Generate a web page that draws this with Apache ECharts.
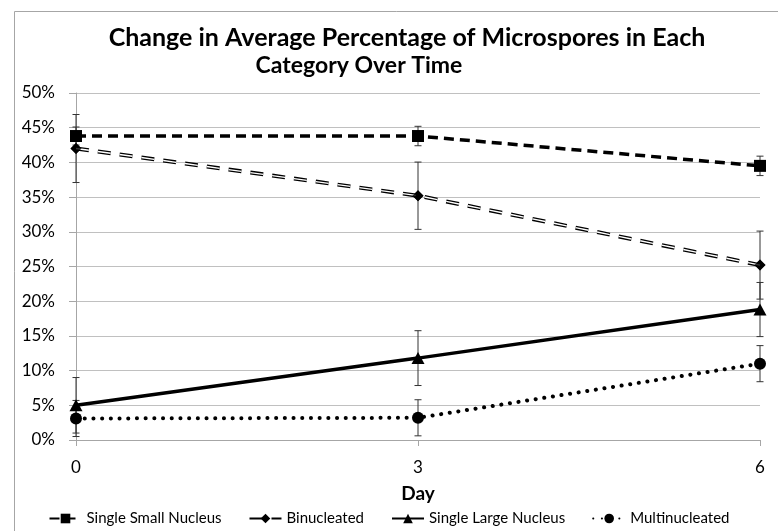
<!DOCTYPE html>
<html>
<head>
    <meta charset="utf-8">
    <script src="https://cdn.jsdelivr.net/npm/echarts@6/dist/echarts.min.js"></script>
</head>
<body style="margin:0">
    <div id="main" style="width:778px;height:531px;"></div>
    <script type="text/javascript">
        // data (percent)
        var days = [0, 3, 6];
        var smallNucleus = [43.8, 43.8, 39.5];
        var smallNucleusErr = [1.3, 1.4, 1.4];
        var binucleated = [42.0, 35.2, 25.2];
        var binucleatedErr = [4.9, 4.85, 4.9];
        var largeNucleus = [5.0, 11.8, 18.8];
        var largeNucleusErr = [4.0, 3.95, 3.9];
        var multinucleated = [3.1, 3.2, 11.0];
        var multinucleatedErr = [2.6, 2.6, 2.6];
        var seriesNames = ['Single Small Nucleus', 'Binucleated', 'Single Large Nucleus', 'Multinucleated'];

        var font = 'Lato, "Liberation Sans", sans-serif';
        var myChart = echarts.init(document.getElementById('main'));

        function pairs(vals) {
            return days.map(function (d, i) { return [d, vals[i]]; });
        }

        function errorBars(vals, errs) {
            var data = days.map(function (d, i) { return [d, vals[i] - errs[i], vals[i] + errs[i]]; });
            return {
                type: 'custom',
                data: data,
                z: 1,
                silent: true,
                encode: {x: 0, y: [1, 2]},
                renderItem: function (params, api) {
                    var lo = api.coord([api.value(0), api.value(1)]);
                    var hi = api.coord([api.value(0), api.value(2)]);
                    var w = 3.5;
                    var style = {stroke: '#333', lineWidth: 1};
                    return {
                        type: 'group',
                        children: [
                            {type: 'line', shape: {x1: hi[0], y1: hi[1], x2: lo[0], y2: lo[1]}, style: style},
                            {type: 'line', shape: {x1: hi[0] - w, y1: hi[1], x2: hi[0] + w, y2: hi[1]}, style: style},
                            {type: 'line', shape: {x1: lo[0] - w, y1: lo[1], x2: lo[0] + w, y2: lo[1]}, style: style}
                        ]
                    };
                }
            };
        }

        var option = {
            animation: false,
            textStyle: {fontFamily: font},
            graphic: [{
                type: 'rect',
                shape: {x: 14.5, y: 11.5, width: 900, height: 700},
                style: {fill: 'none', stroke: '#a6a6a6', lineWidth: 1},
                silent: true
            }],
            title: [{
                text: 'Change in Average Percentage of Microspores in Each',
                left: 402,
                top: 20,
                textAlign: 'center',
                textStyle: {fontFamily: font, fontSize: 25, fontWeight: 'bold', color: '#000'}
            }, {
                text: 'Category Over Time',
                left: 354,
                top: 49,
                textAlign: 'center',
                textStyle: {fontFamily: font, fontSize: 23, fontWeight: 'bold', color: '#000'}
            }],
            legend: {
                data: seriesNames,
                bottom: 0,
                left: 'center',
                itemWidth: 32,
                itemHeight: 12,
                itemGap: 27,
                textStyle: {fontFamily: font, fontSize: 15, color: '#000'}
            },
            grid: {left: 76, right: 18, top: 93, bottom: 91},
            xAxis: {
                type: 'value',
                min: 0,
                max: 6,
                interval: 3,
                name: 'Day',
                nameLocation: 'middle',
                nameGap: 44,
                nameTextStyle: {fontFamily: font, fontSize: 19, fontWeight: 'bold', color: '#000'},
                axisLine: {lineStyle: {color: '#a6a6a6'}},
                axisTick: {show: true, length: 6, lineStyle: {color: '#a6a6a6'}},
                axisLabel: {margin: 19, fontSize: 17, color: '#000', fontFamily: font},
                splitLine: {show: false}
            },
            yAxis: {
                type: 'value',
                min: 0,
                max: 50,
                interval: 5,
                axisLine: {show: true, lineStyle: {color: '#a6a6a6'}},
                axisTick: {show: true, length: 7, lineStyle: {color: '#a6a6a6'}},
                axisLabel: {margin: 21, fontSize: 17, color: '#000', fontFamily: font, formatter: '{value}%'},
                splitLine: {lineStyle: {color: '#c0c0c0'}}
            },
            series: [
                errorBars(smallNucleus, smallNucleusErr),
                errorBars(binucleated, binucleatedErr),
                errorBars(largeNucleus, largeNucleusErr),
                errorBars(multinucleated, multinucleatedErr),
                {
                    name: 'Single Small Nucleus',
                    type: 'line',
                    data: pairs(smallNucleus),
                    symbol: 'rect',
                    symbolSize: 12,
                    z: 3,
                    itemStyle: {color: '#000'},
                    lineStyle: {color: '#000', width: 3.5, type: [10, 6]}
                },
                {
                    name: 'Binucleated',
                    type: 'line',
                    data: pairs(binucleated),
                    symbol: 'diamond',
                    symbolSize: 11,
                    z: 3,
                    itemStyle: {color: '#000'},
                    lineStyle: {color: '#000', width: 4, type: [13, 9]}
                },
                {
                    // white core makes the binucleated line a double line
                    type: 'line',
                    data: pairs(binucleated),
                    showSymbol: false,
                    z: 4,
                    silent: true,
                    lineStyle: {color: '#fff', width: 1.4, type: [13, 9]}
                },
                {
                    type: 'scatter',
                    data: pairs(binucleated),
                    symbol: 'diamond',
                    symbolSize: 11,
                    z: 5,
                    silent: true,
                    itemStyle: {color: '#000'}
                },
                {
                    name: 'Single Large Nucleus',
                    type: 'line',
                    data: pairs(largeNucleus),
                    symbol: 'triangle',
                    symbolSize: [13, 12],
                    z: 3,
                    itemStyle: {color: '#000'},
                    lineStyle: {color: '#000', width: 3.5}
                },
                {
                    name: 'Multinucleated',
                    type: 'line',
                    data: pairs(multinucleated),
                    symbol: 'circle',
                    symbolSize: 12,
                    z: 3,
                    itemStyle: {color: '#000'},
                    lineStyle: {color: '#000', width: 4, type: [0.1, 8.6], cap: 'round'}
                }
            ]
        };
        myChart.setOption(option);
    </script>
</body>
</html>
